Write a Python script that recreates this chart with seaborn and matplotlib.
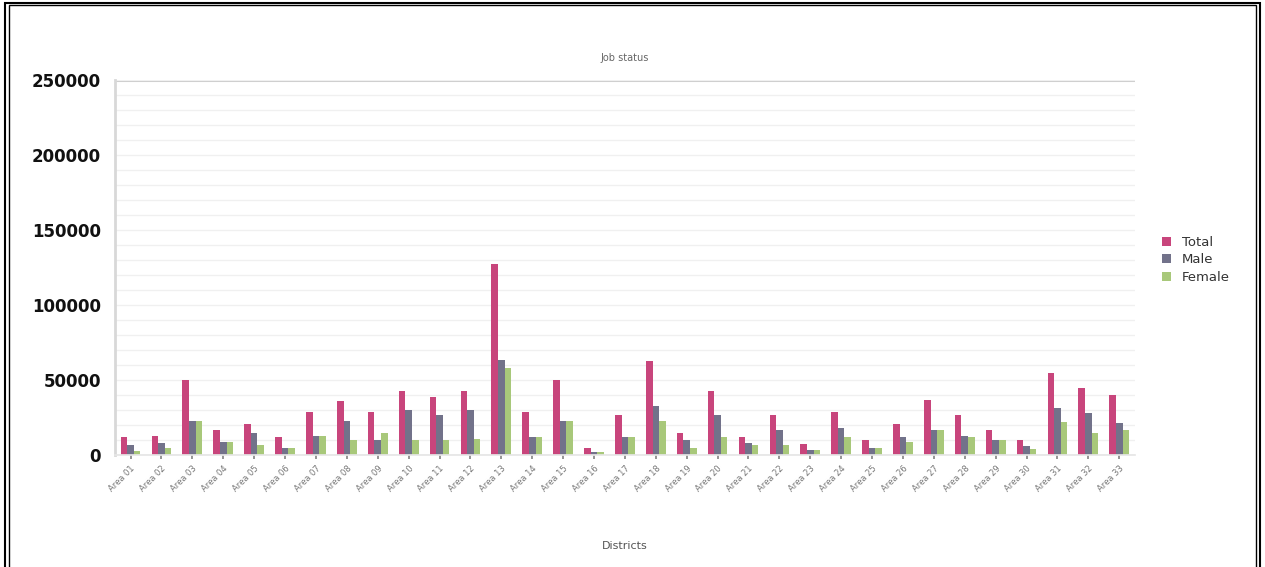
import numpy as np
import pandas as pd
import matplotlib
matplotlib.use("Agg")
import matplotlib.pyplot as plt
import seaborn as sns
from matplotlib.patches import Rectangle

categories = [
    "Area 01", "Area 02", "Area 03", "Area 04", "Area 05", "Area 06", "Area 07",
    "Area 08", "Area 09", "Area 10", "Area 11", "Area 12", "Area 13", "Area 14",
    "Area 15", "Area 16", "Area 17", "Area 18", "Area 19", "Area 20", "Area 21",
    "Area 22", "Area 23", "Area 24", "Area 25", "Area 26", "Area 27", "Area 28",
    "Area 29", "Area 30", "Area 31", "Area 32", "Area 33",
]
total = [12000, 13000, 50000, 16500, 20500, 12000, 28500, 36000, 28500, 42500,
         38500, 42500, 127000, 28500, 50000, 4500, 26500, 62500, 15000, 42500,
         12000, 26500, 7500, 29000, 10000, 21000, 36500, 26500, 16500, 10000,
         55000, 44500, 40000]
male = [6500, 8000, 23000, 8500, 15000, 5000, 13000, 23000, 10000, 30000,
        26500, 30000, 63000, 12000, 23000, 2000, 12000, 33000, 10000, 26500,
        8000, 16500, 3500, 18000, 4500, 12000, 16500, 13000, 10000, 6000,
        31500, 28000, 21500]
female = [3000, 4500, 23000, 8500, 6500, 5000, 13000, 10000, 14500, 10000,
          10000, 11000, 58000, 12000, 23000, 2000, 12000, 23000, 5000, 12000,
          6500, 6500, 3500, 12000, 4500, 8500, 16500, 12000, 10000, 4000,
          22000, 14500, 16500]
series_names = ["Total", "Male", "Female"]

df = pd.DataFrame({
    "cat": categories * 3,
    "series": np.repeat(series_names, len(categories)),
    "value": total + male + female,
})

sns.set_theme(style="white")
plt.rcParams["font.family"] = ["DejaVu Sans"]

fig = plt.figure(figsize=(12.65, 5.67), dpi=100)
ax = fig.add_axes([0.091, 0.1975, 0.806, 0.6615])

palette = ["#c8457c", "#72728a", "#a8c87a"]
sns.barplot(data=df, x="cat", y="value", hue="series", palette=palette,
            width=0.64, ax=ax, saturation=1, linewidth=0)

ax.set_ylim(0, 250000)
ax.set_xlim(-0.5, len(categories) - 0.5)
ax.set_yticks(np.arange(0, 250001, 50000))
ax.set_yticklabels([str(v) for v in range(0, 250001, 50000)],
                   fontsize=12, fontweight="bold", color="#111111")
ax.set_yticks(np.arange(0, 250001, 10000), minor=True)
ax.grid(axis="y", which="both", color="#f0f0f0", linewidth=1)
ax.axhline(250000, color="#c8c8c8", linewidth=2.2, zorder=0.5)
ax.set_axisbelow(True)

for s in ["top", "right"]:
    ax.spines[s].set_visible(False)
ax.spines["left"].set_color("#d8d8d8")
ax.spines["left"].set_linewidth(2)
ax.spines["bottom"].set_color("#e6e6e6")

ax.tick_params(axis="y", length=0, pad=10)
ax.tick_params(axis="x", length=3, color="#888888", bottom=True)
ax.set_xticks(range(len(categories)))
ax.set_xticklabels(categories, rotation=45, ha="right", fontsize=6,
                   color="#777777", rotation_mode="anchor")

ax.set_xlabel("Districts", fontsize=8, color="#555555", labelpad=34)
ax.set_ylabel("")
ax.set_title("Job status", fontsize=7, color="#666666", pad=14)

leg = ax.legend(loc="center left", bbox_to_anchor=(1.015, 0.52), frameon=False,
                fontsize=9.5, handlelength=0.7, handleheight=0.7,
                handletextpad=0.8, labelspacing=0.35, title=None)
for t in leg.get_texts():
    t.set_color("#333333")

fig.patches.append(Rectangle((0.004, -0.02), 0.992, 1.014, transform=fig.transFigure,
                             fill=False, edgecolor="black", linewidth=1.5))
fig.patches.append(Rectangle((0.0075, -0.02), 0.985, 1.0105, transform=fig.transFigure,
                             fill=False, edgecolor="black", linewidth=1.0))

fig.savefig("out.png", dpi=100, facecolor="white")
